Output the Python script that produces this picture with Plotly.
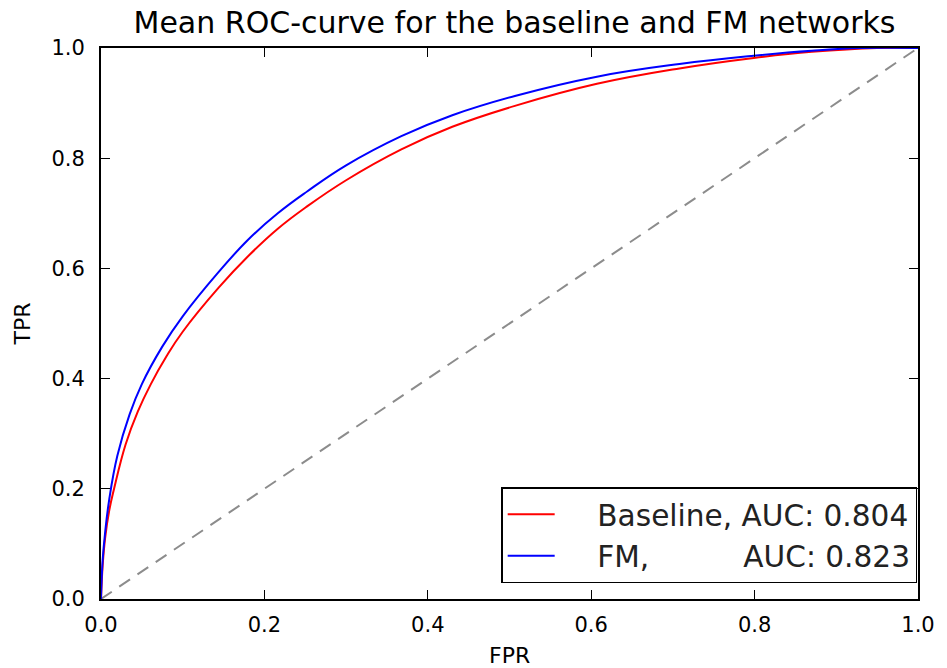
import plotly.graph_objects as go

# ---- data ----
baseline_fpr = [0, 0.002, 0.005, 0.01, 0.016, 0.03, 0.045, 0.061, 0.08, 0.1, 0.144, 0.18,
                0.2164, 0.2527, 0.3, 0.3676, 0.43, 0.5066, 0.607, 0.708, 0.799, 0.87, 0.95, 1.0]
baseline_tpr = [0, 0.06, 0.11, 0.16, 0.2, 0.28, 0.34, 0.39, 0.44, 0.485, 0.565, 0.622,
                0.672, 0.713, 0.76, 0.816, 0.857, 0.895, 0.935, 0.963, 0.982, 0.993, 1.0, 1.0]

fm_fpr = [0, 0.002, 0.005, 0.01, 0.02, 0.035, 0.05, 0.075, 0.1, 0.142, 0.18, 0.2164,
          0.2527, 0.3, 0.3676, 0.43, 0.5066, 0.607, 0.708, 0.799, 0.87, 0.93, 1.0]
fm_tpr = [0, 0.07, 0.12, 0.18, 0.26, 0.335, 0.39, 0.458, 0.513, 0.59, 0.652, 0.700,
          0.740, 0.787, 0.84, 0.878, 0.913, 0.948, 0.971, 0.986, 0.995, 1.0, 1.0]

chance_x = [0, 1]
chance_y = [0, 1]

PAD = "\u00a0" * 4
baseline_label = PAD + "Baseline, AUC: 0.804"
fm_label = PAD + "FM," + "\u00a0" * 10 + "AUC: 0.823"

tick_vals = [0.0, 0.2, 0.4, 0.6, 0.8, 1.0]
tick_text = ["0.0", "0.2", "0.4", "0.6", "0.8", "1.0"]

FONT = "DejaVu Sans"

fig = go.Figure()
fig.add_trace(go.Scatter(x=chance_x, y=chance_y, mode="lines", showlegend=False,
                         line=dict(color="#8c8c8c", width=2, dash="13px,9px")))
fig.add_trace(go.Scatter(x=baseline_fpr, y=baseline_tpr, mode="lines", name=baseline_label,
                         line=dict(color="#ff0000", width=2, shape="spline", smoothing=1.2)))
fig.add_trace(go.Scatter(x=fm_fpr, y=fm_tpr, mode="lines", name=fm_label,
                         line=dict(color="#0000ff", width=2, shape="spline", smoothing=1.2)))

axis_common = dict(range=[0, 1], showgrid=False, zeroline=False, showline=True,
                   linecolor="black", linewidth=2, mirror="ticks", ticks="inside",
                   ticklen=9, tickwidth=1.2, tickcolor="black",
                   tickvals=tick_vals, ticktext=tick_text,
                   tickfont=dict(family=FONT, size=21, color="black"))

fig.update_layout(
    width=947, height=668,
    margin=dict(l=101, r=19, t=48, b=69),
    paper_bgcolor="white", plot_bgcolor="white",
    font=dict(family=FONT, color="black"),
    title=dict(text="Mean ROC-curve for the baseline and FM networks",
               x=(101 + 827 / 2) / 947, xanchor="center",
               y=1 - 22 / 668, yanchor="middle", yref="container",
               font=dict(family=FONT, size=30, color="black")),
    xaxis=dict(**axis_common, ticklabelstandoff=6),
    yaxis=dict(**axis_common, ticklabelstandoff=10),
    legend=dict(x=0.999, y=0.029, xanchor="right", yanchor="bottom",
                bgcolor="white", bordercolor="black", borderwidth=1.5,
                font=dict(family=FONT, size=29.6, color="#222222"),
                itemwidth=47, tracegroupgap=0),
    annotations=[
        dict(text="FPR", xref="paper", yref="paper", x=0.5, y=(599 - 655) / 551,
             xanchor="center", yanchor="middle", showarrow=False,
             font=dict(family=FONT, size=22, color="black")),
        dict(text="TPR", xref="paper", yref="paper", x=(22 - 101) / 827, y=0.5,
             xanchor="center", yanchor="middle", showarrow=False, textangle=-90,
             font=dict(family=FONT, size=22, color="black")),
    ],
)

fig.write_html("out.html", config={"displayModeBar": False},
               post_script="document.body.style.margin='0px';document.body.style.overflow='hidden';")
